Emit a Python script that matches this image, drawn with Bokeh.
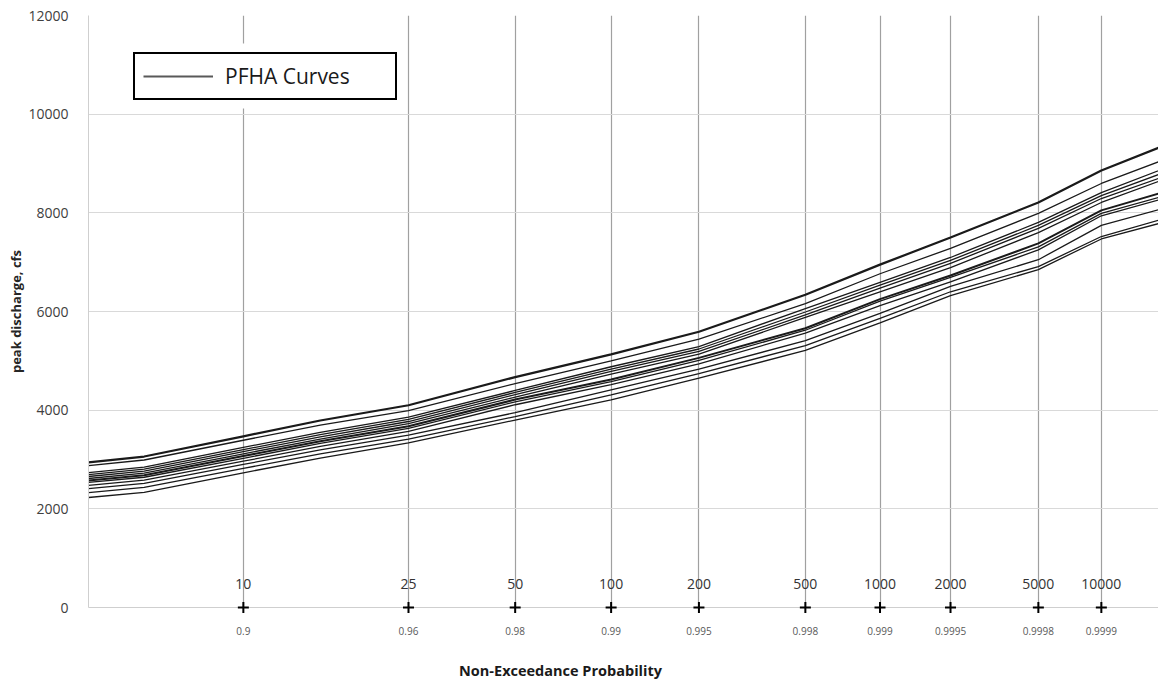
from statistics import NormalDist
from bokeh.plotting import figure
from bokeh.models import Range1d, FixedTicker, Legend, LegendItem, BoxAnnotation
from bokeh.embed import file_html
from bokeh.resources import INLINE
from bokeh.core.properties import value

# ---- data (non-exceedance probability on a normal-probability axis) ----
curve_prob = [0.8, 0.8413, 0.9, 0.9332, 0.96, 0.98, 0.99, 0.995, 0.998, 0.999, 0.9995, 0.9998, 0.9999, 0.99995]

c01 = [2940, 3060, 3470, 3790, 4100, 4670, 5130, 5590, 6340, 6950, 7500, 8210, 8860, 9345]
c02 = [2875, 2990, 3390, 3695, 3990, 4540, 5000, 5440, 6160, 6765, 7280, 7990, 8595, 9060]
c03 = [2735, 2845, 3245, 3550, 3860, 4400, 4880, 5290, 6060, 6590, 7095, 7805, 8410, 8880]
c04 = [2695, 2805, 3200, 3505, 3815, 4360, 4830, 5240, 5990, 6535, 7035, 7745, 8350, 8800]
c05 = [2655, 2765, 3160, 3460, 3770, 4315, 4785, 5190, 5930, 6475, 6975, 7685, 8290, 8720]
c06 = [2615, 2725, 3115, 3415, 3725, 4265, 4730, 5135, 5880, 6400, 6890, 7600, 8210, 8660]
c07 = [2575, 2680, 3070, 3370, 3675, 4215, 4620, 5060, 5660, 6250, 6730, 7380, 8050, 8410]
c08 = [2535, 2640, 3025, 3325, 3630, 4170, 4580, 5010, 5620, 6210, 6690, 7310, 7990, 8330]
c09 = [2475, 2580, 2965, 3265, 3570, 4110, 4520, 4940, 5560, 6120, 6600, 7250, 7940, 8280]
c10 = [2410, 2515, 2900, 3195, 3495, 3950, 4410, 4830, 5410, 5960, 6510, 7050, 7745, 8080]
c11 = [2330, 2435, 2820, 3115, 3415, 3870, 4310, 4740, 5310, 5860, 6400, 6910, 7520, 7870]
c12 = [2230, 2335, 2730, 3030, 3335, 3800, 4210, 4650, 5210, 5770, 6320, 6850, 7470, 7800]
curves = [c01, c02, c03, c04, c05, c06, c07, c08, c09, c10, c11, c12]

grid_prob = [0.9, 0.96, 0.98, 0.99, 0.995, 0.998, 0.999, 0.9995, 0.9998, 0.9999]
grid_prob_labels = ["0.9", "0.96", "0.98", "0.99", "0.995", "0.998", "0.999", "0.9995", "0.9998", "0.9999"]
return_period_labels = ["10", "25", "50", "100", "200", "500", "1000", "2000", "5000", "10000"]
y_ticks = [0, 2000, 4000, 6000, 8000, 10000, 12000]

# ---- styles ----
FONT = "Open Sans"
GFONT = value("Open Sans")
curve_widths = [2.2, 1.3, 1.3, 1.3, 1.3, 1.3, 2.0, 1.3, 1.3, 1.3, 1.3, 1.3]

nd = NormalDist()
def zz(pr):
    return round(nd.inv_cdf(pr), 6)

xs = [zz(pr) for pr in curve_prob]
grid_z = [zz(pr) for pr in grid_prob]

x0 = zz(0.8)
p = figure(width=1158, height=682, output_backend="svg", toolbar_location=None,
           x_range=Range1d(x0, x0 + 1070 / 352), y_range=Range1d(0, 12000),
           min_border_left=88, min_border_right=0, min_border_top=15, min_border_bottom=75)
p.outline_line_color = None
p.background_fill_color = "white"

# grids
p.xgrid.ticker = FixedTicker(ticks=grid_z)
p.xgrid.grid_line_color = "#a0a0a0"
p.xgrid.grid_line_width = 1.2
p.ygrid.ticker = FixedTicker(ticks=y_ticks)
p.ygrid.grid_line_color = "#d9d9d9"

# y axis
p.yaxis.ticker = FixedTicker(ticks=y_ticks)
p.yaxis.axis_line_color = "#cfcfcf"
p.yaxis.major_tick_line_color = None
p.yaxis.minor_tick_line_color = None
p.yaxis.major_label_standoff = 14
p.yaxis.major_label_text_font = FONT
p.yaxis.major_label_text_font_size = "14px"
p.yaxis.major_label_text_color = "#404040"
p.yaxis.axis_label = "peak discharge, cfs"
p.yaxis.axis_label_text_font = FONT
p.yaxis.axis_label_text_font_size = "13px"
p.yaxis.axis_label_text_font_style = "bold"
p.yaxis.axis_label_text_color = "#262626"
p.yaxis.axis_label_standoff = 0

# x axis: probability labels
p.xaxis.ticker = FixedTicker(ticks=grid_z)
p.xaxis.major_label_overrides = {z: lab for z, lab in zip(grid_z, grid_prob_labels)}
p.xaxis.axis_line_color = "#cfcfcf"
p.xaxis.major_tick_line_color = None
p.xaxis.minor_tick_line_color = None
p.xaxis.major_label_standoff = 13
p.xaxis.major_label_text_font = FONT
p.xaxis.major_label_text_font_size = "10px"
p.xaxis.major_label_text_color = "#595959"

# curves
renderers = []
for c, w in zip(curves, curve_widths):
    r = p.line(xs, c, line_color="#1a1a1a", line_width=w)
    renderers.append(r)

# legend sample line (legend only: NaN values, draws nothing in the plot)
legend_line = p.line(xs, [float("nan")] * len(xs), line_color="#595959", line_width=2)

# return period labels and + markers
p.text(x=grid_z, y=[0] * len(grid_z), text=return_period_labels, y_offset=-24,
       text_align="center", text_baseline="middle", text_font=GFONT,
       text_font_size="14px", text_color="#333333")
mk = p.scatter(x=grid_z, y=[0] * len(grid_z), marker="cross", size=11, line_width=2, line_color="black")
mk.level = "overlay"

# x-axis title (placed off-centre, as in the original)
xt = p.text(x=[x0 + (560 - 88) / 352], y=[0], text=["Non-Exceedance Probability"], y_offset=63,
            text_align="center", text_baseline="middle", text_font=GFONT,
            text_font_size="14.5px", text_font_style="bold", text_color="#1a1a1a")
xt.level = "overlay"

# white area behind legend
p.add_layout(BoxAnnotation(left=0.935, right=1.742, bottom=10115, top=11432,
                           fill_color="white", fill_alpha=1.0, line_alpha=0))

legend = Legend(items=[LegendItem(label="PFHA Curves", renderers=[legend_line])],
                location=(45, 507), margin=0, padding=8, spacing=0,
                glyph_width=70, label_standoff=12, label_width=162, label_height=22,
                label_text_font=FONT, label_text_font_size="21px", label_text_color="#1a1a1a",
                border_line_color="black", border_line_width=2, border_line_alpha=1.0,
                background_fill_alpha=1.0)
p.add_layout(legend, "center")

open("out.html", "w").write(file_html(p, INLINE))
